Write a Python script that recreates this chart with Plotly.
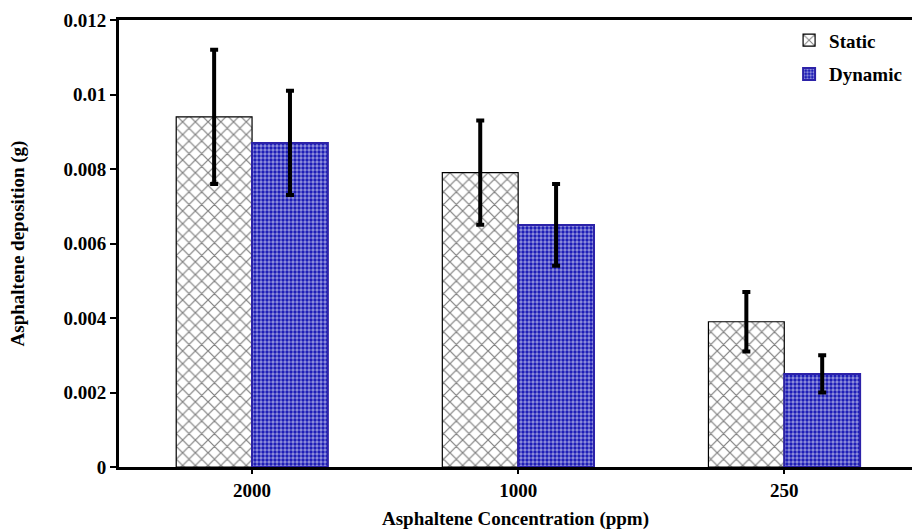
import plotly.graph_objects as go

# Asphaltene deposition by concentration, static vs dynamic tests
concentrations = ["2000", "1000", "250"]
static_dep = [0.0094, 0.0079, 0.0039]
static_err = [0.0018, 0.0014, 0.0008]
dynamic_dep = [0.0087, 0.0065, 0.0025]
dynamic_err = [0.0014, 0.0011, 0.0005]

y_tick_vals = [0, 0.002, 0.004, 0.006, 0.008, 0.01, 0.012]
y_tick_text = ["0", "0.002", "0.004", "0.006", "0.008", "0.01", "0.012"]

font_family = "Liberation Serif"
fsize = 19

fig = go.Figure()

fig.add_trace(go.Bar(
    name="<b>Static</b>",
    legendgroup="static",
    x=concentrations,
    y=static_dep,
    error_y=dict(type="data", array=static_err, color="black", thickness=4, width=4),
    marker=dict(
        color="white",
        line=dict(color="black", width=1.2),
        pattern=dict(shape="x", fgcolor="black", bgcolor="white", size=9, solidity=0.25),
    ),
))

fig.add_trace(go.Bar(
    name="<b>Dynamic</b>",
    legendgroup="dynamic",
    x=concentrations,
    y=dynamic_dep,
    error_y=dict(type="data", array=dynamic_err, color="black", thickness=4, width=4),
    marker=dict(
        color="#1414b4",
        line=dict(color="#2c22a8", width=2),
        pattern=dict(shape=".", fgcolor="white", bgcolor="#1414b4", size=4, solidity=0.55),
    ),
))

fig.update_layout(
    width=912,
    height=530,
    margin=dict(l=119, r=0, t=20, b=63),
    paper_bgcolor="white",
    plot_bgcolor="white",
    barmode="group",
    bargap=0.43,
    bargroupgap=0,
    font=dict(family=font_family, size=fsize, color="black"),
    legend=dict(
        x=0.845, y=0.997, xanchor="left", yanchor="top",
        font=dict(family=font_family, size=fsize, color="black"),
        bgcolor="rgba(0,0,0,0)",
        tracegroupgap=6,
        itemwidth=30,
    ),
    xaxis=dict(
        range=[-0.5, 2.48],
        tickvals=concentrations,
        ticktext=["<b>%s</b>" % c for c in concentrations],
        showline=True, linecolor="black", linewidth=3,
        mirror=True,
        ticks="outside", ticklen=4, tickwidth=2, tickcolor="black",
        tickfont=dict(family=font_family, size=fsize, color="black"),
        title=dict(text="<b>Asphaltene Concentration (ppm)</b>",
                   font=dict(family=font_family, size=fsize, color="black"), standoff=12),
        showgrid=False,
    ),
    yaxis=dict(
        range=[0, 0.012],
        tickvals=y_tick_vals, ticktext=["<b>%s</b>" % t for t in y_tick_text],
        showline=True, linecolor="black", linewidth=3,
        ticks="outside", ticklen=6, tickwidth=2, tickcolor="black",
        tickfont=dict(family=font_family, size=fsize, color="black"),
        title=dict(text="<b>Asphaltene deposition (g)</b>",
                   font=dict(family=font_family, size=fsize, color="black"), standoff=34),
        showgrid=False, zeroline=False,
    ),
)

fig.write_html("out.html")
